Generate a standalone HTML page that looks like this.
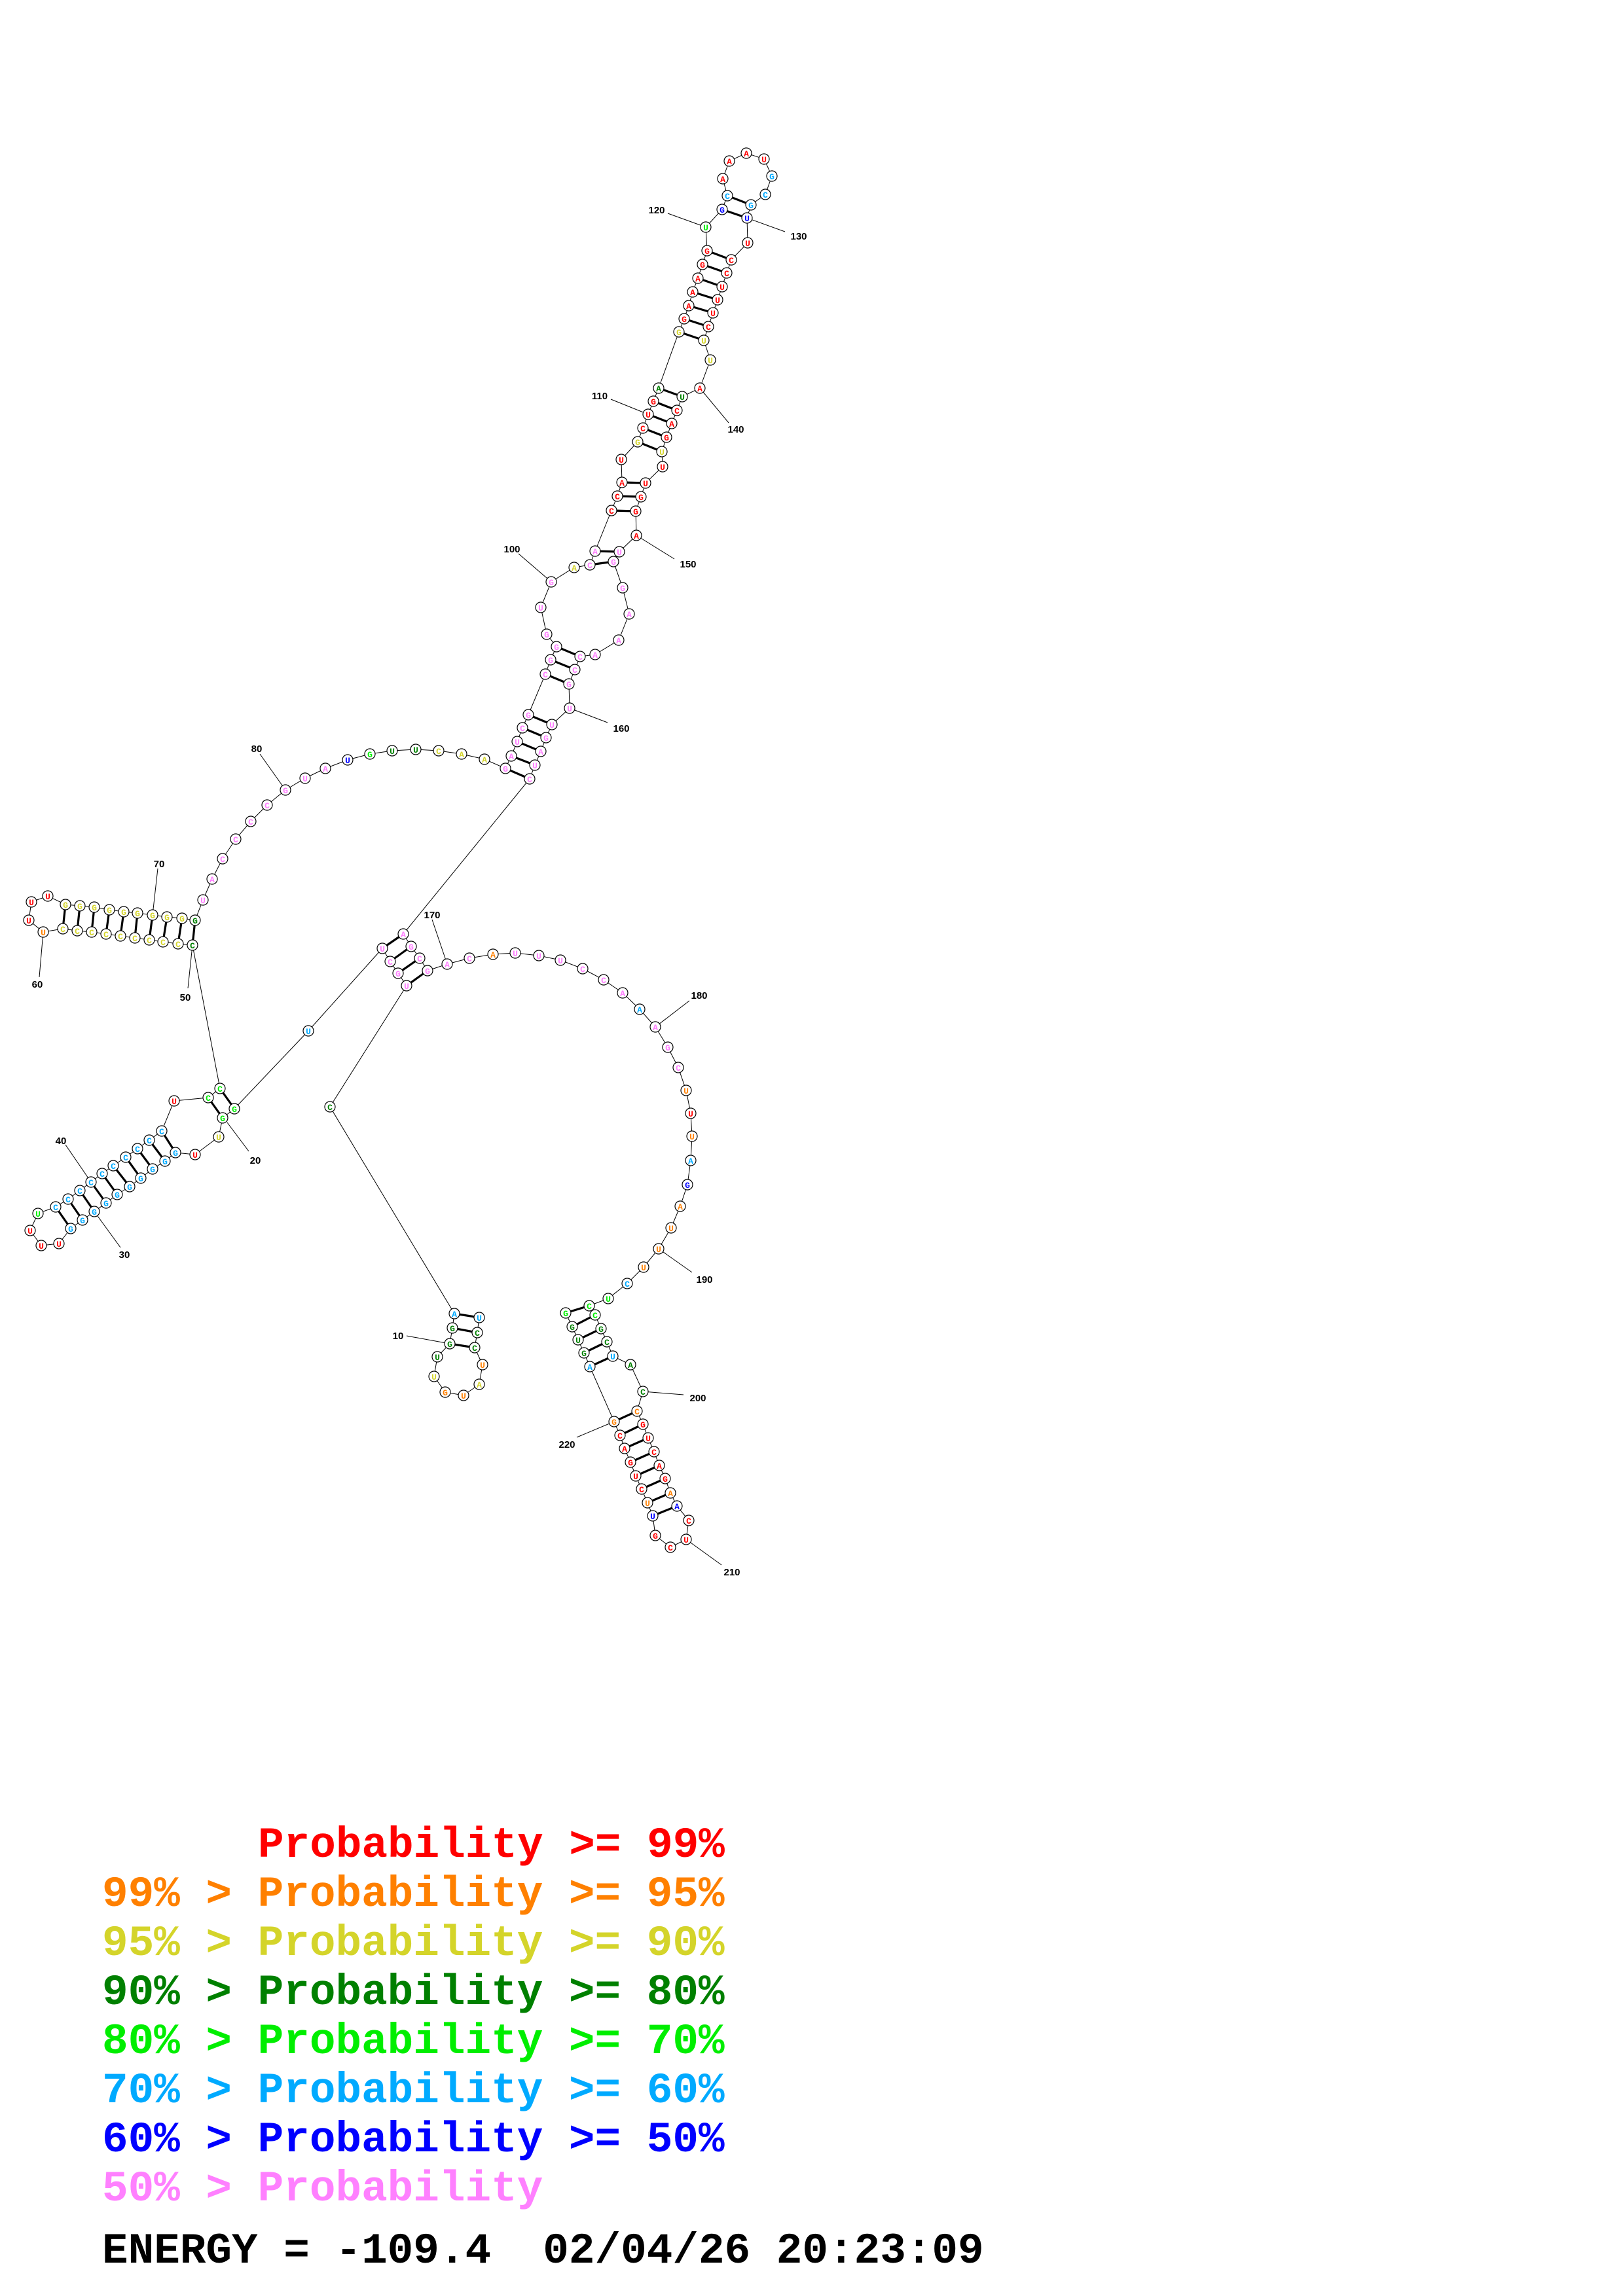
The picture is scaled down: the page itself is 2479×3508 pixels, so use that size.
<!DOCTYPE html>
<html><head><meta charset="utf-8">
<style>
html,body{margin:0;padding:0;background:#fff;}
svg{display:block;}
.n circle{fill:#fff;stroke:#000;stroke-width:1.2;}
.l{font-family:"Liberation Mono",monospace;font-weight:bold;font-size:13px;text-anchor:middle;}
.r{fill:#ff0000}.o{fill:#ff8000}.y{fill:#d4d42a}.d{fill:#008000}.g{fill:#00ee00}.c{fill:#00aaff}.b{fill:#0000ff}.p{fill:#ff80ff}
.num{font-family:"Liberation Sans",sans-serif;font-weight:bold;font-size:15px;text-anchor:middle;fill:#000}
.leg{font-family:"Liberation Mono",monospace;font-weight:bold;font-size:66px;white-space:pre;}
</style></head><body>
<svg width="2479" height="3508" viewBox="0 0 2479 3508" xmlns="http://www.w3.org/2000/svg">
<g stroke="#000" stroke-width="1" fill="none">
<polyline points="732,2013 729,2036 725,2059 737,2085 732,2115 708,2132 680,2127 663,2103 668,2073 687,2053 691,2029 694,2007 504,1691 621,1506 608,1487 596,1469 584,1449 471,1575 358,1694 340,1708 334,1737 298,1764 268,1761 252,1774 233,1786 215,1800 198,1813 179,1825 162,1838 144,1851 126,1864 108,1877 90,1900 63,1903 46,1880 58,1854 85,1844 104,1832 122,1819 139,1806 156,1793 173,1781 192,1768 210,1755 228,1742 247,1728 266,1682 318,1677 336,1663 294,1444 272,1442 249,1439 228,1436 206,1433 184,1430 162,1427 140,1424 118,1422 96,1419 66,1424 44,1406 48,1378 73,1369 100,1382 122,1384 144,1386 167,1390 189,1393 210,1395 233,1398 255,1401 278,1403 298,1406 310,1375 324,1343 340,1312 360,1282 383,1255 408,1230 436,1207 466,1189 497,1174 531,1161 565,1152 599,1147 635,1145 670,1147 705,1152 740,1160 772,1174 781,1155 790,1133 798,1112 807,1092 833,1030 841,1008 850,988 835,969 826,928 842,889 877,867 901,863 909,842 934,780 943,758 950,737 949,702 974,675 982,654 990,633 998,613 1006,593 1037,507 1045,487 1052,467 1058,446 1066,425 1073,404 1080,383 1078,347 1103,320 1111,299 1104,273 1114,246 1140,234 1167,243 1179,269 1169,297 1147,313 1141,333 1142,371 1117,397 1110,417 1103,438 1096,458 1089,478 1082,499 1075,520 1085,550 1069,593 1042,606 1034,627 1026,647 1018,668 1011,690 1012,713 986,738 979,759 971,781 972,818 946,843 937,858 951,898 961,938 945,978 909,1000 886,1003 878,1023 869,1045 870,1082 843,1107 834,1127 826,1148 817,1169 809,1190 616,1427 628,1446 641,1464 653,1483 683,1473 717,1464 753,1458 787,1456 823,1460 856,1467 890,1480 922,1497 951,1517 977,1542 1001,1569 1020,1600 1036,1631 1048,1666 1055,1701 1057,1736 1055,1773 1050,1810 1039,1843 1025,1876 1006,1908 983,1936 958,1961 929,1984 900,1995 909,2009 918,2030 927,2050 936,2072 963,2085 982,2126 973,2156 982,2176 990,2197 999,2218 1007,2239 1016,2259 1024,2281 1034,2301 1052,2323 1048,2352 1024,2364 1001,2346 997,2316 989,2296 980,2275 971,2255 963,2234 954,2213 947,2193 938,2172 901,2088 892,2067 883,2047 874,2027 864,2006"/>
<line x1="621" y1="2041" x2="687" y2="2053"/>
<line x1="380" y1="1759" x2="347" y2="1715"/>
<line x1="184" y1="1906" x2="144" y2="1851"/>
<line x1="100" y1="1749" x2="139" y2="1806"/>
<line x1="287" y1="1510" x2="294" y2="1444"/>
<line x1="60" y1="1493" x2="66" y2="1424"/>
<line x1="241" y1="1327" x2="233" y2="1398"/>
<line x1="397" y1="1152" x2="436" y2="1207"/>
<line x1="792" y1="846" x2="842" y2="889"/>
<line x1="933" y1="610" x2="990" y2="633"/>
<line x1="1020" y1="326" x2="1078" y2="347"/>
<line x1="1141" y1="333" x2="1199" y2="354"/>
<line x1="1069" y1="593" x2="1113" y2="646"/>
<line x1="972" y1="818" x2="1030" y2="854"/>
<line x1="870" y1="1082" x2="928" y2="1104"/>
<line x1="660" y1="1405" x2="683" y2="1473"/>
<line x1="1053" y1="1529" x2="1001" y2="1569"/>
<line x1="1006" y1="1908" x2="1057" y2="1944"/>
<line x1="982" y1="2126" x2="1044" y2="2131"/>
<line x1="1048" y1="2352" x2="1102" y2="2391"/>
<line x1="881" y1="2196" x2="938" y2="2172"/>
</g>
<g stroke="#000" stroke-width="3.2">
<line x1="732" y1="2013" x2="694" y2="2007"/><line x1="729" y1="2036" x2="691" y2="2029"/><line x1="725" y1="2059" x2="687" y2="2053"/>
<line x1="621" y1="1506" x2="653" y2="1483"/><line x1="608" y1="1487" x2="641" y2="1464"/><line x1="596" y1="1469" x2="628" y2="1446"/><line x1="584" y1="1449" x2="616" y2="1427"/>
<line x1="358" y1="1694" x2="336" y2="1663"/><line x1="340" y1="1708" x2="318" y2="1677"/>
<line x1="268" y1="1761" x2="247" y2="1728"/><line x1="252" y1="1774" x2="228" y2="1742"/><line x1="233" y1="1786" x2="210" y2="1755"/><line x1="215" y1="1800" x2="192" y2="1768"/><line x1="198" y1="1813" x2="173" y2="1781"/><line x1="179" y1="1825" x2="156" y2="1793"/><line x1="162" y1="1838" x2="139" y2="1806"/><line x1="144" y1="1851" x2="122" y2="1819"/><line x1="126" y1="1864" x2="104" y2="1832"/><line x1="108" y1="1877" x2="85" y2="1844"/>
<line x1="294" y1="1444" x2="298" y2="1406"/><line x1="272" y1="1442" x2="278" y2="1403"/><line x1="249" y1="1439" x2="255" y2="1401"/><line x1="228" y1="1436" x2="233" y2="1398"/><line x1="206" y1="1433" x2="210" y2="1395"/><line x1="184" y1="1430" x2="189" y2="1393"/><line x1="162" y1="1427" x2="167" y2="1390"/><line x1="140" y1="1424" x2="144" y2="1386"/><line x1="118" y1="1422" x2="122" y2="1384"/><line x1="96" y1="1419" x2="100" y2="1382"/>
<line x1="772" y1="1174" x2="809" y2="1190"/><line x1="781" y1="1155" x2="817" y2="1169"/><line x1="790" y1="1133" x2="826" y2="1148"/><line x1="798" y1="1112" x2="834" y2="1127"/><line x1="807" y1="1092" x2="843" y2="1107"/>
<line x1="833" y1="1030" x2="869" y2="1045"/><line x1="841" y1="1008" x2="878" y2="1023"/><line x1="850" y1="988" x2="886" y2="1003"/>
<line x1="901" y1="863" x2="937" y2="858"/><line x1="909" y1="842" x2="946" y2="843"/>
<line x1="934" y1="780" x2="971" y2="781"/><line x1="943" y1="758" x2="979" y2="759"/><line x1="950" y1="737" x2="986" y2="738"/>
<line x1="974" y1="675" x2="1011" y2="690"/><line x1="982" y1="654" x2="1018" y2="668"/><line x1="990" y1="633" x2="1026" y2="647"/><line x1="998" y1="613" x2="1034" y2="627"/><line x1="1006" y1="593" x2="1042" y2="606"/>
<line x1="1037" y1="507" x2="1075" y2="520"/><line x1="1045" y1="487" x2="1082" y2="499"/><line x1="1052" y1="467" x2="1089" y2="478"/><line x1="1058" y1="446" x2="1096" y2="458"/><line x1="1066" y1="425" x2="1103" y2="438"/><line x1="1073" y1="404" x2="1110" y2="417"/><line x1="1080" y1="383" x2="1117" y2="397"/>
<line x1="1103" y1="320" x2="1141" y2="333"/><line x1="1111" y1="299" x2="1147" y2="313"/>
<line x1="900" y1="1995" x2="864" y2="2006"/><line x1="909" y1="2009" x2="874" y2="2027"/><line x1="918" y1="2030" x2="883" y2="2047"/><line x1="927" y1="2050" x2="892" y2="2067"/><line x1="936" y1="2072" x2="901" y2="2088"/>
<line x1="973" y1="2156" x2="938" y2="2172"/><line x1="982" y1="2176" x2="947" y2="2193"/><line x1="990" y1="2197" x2="954" y2="2213"/><line x1="999" y1="2218" x2="963" y2="2234"/><line x1="1007" y1="2239" x2="971" y2="2255"/><line x1="1016" y1="2259" x2="980" y2="2275"/><line x1="1024" y1="2281" x2="989" y2="2296"/><line x1="1034" y1="2301" x2="997" y2="2316"/>
</g>
<g class="n">
<circle cx="732" cy="2013" r="8"/><circle cx="729" cy="2036" r="8"/><circle cx="725" cy="2059" r="8"/><circle cx="737" cy="2085" r="8"/><circle cx="732" cy="2115" r="8"/><circle cx="708" cy="2132" r="8"/><circle cx="680" cy="2127" r="8"/><circle cx="663" cy="2103" r="8"/><circle cx="668" cy="2073" r="8"/><circle cx="687" cy="2053" r="8"/><circle cx="691" cy="2029" r="8"/><circle cx="694" cy="2007" r="8"/><circle cx="504" cy="1691" r="8"/><circle cx="621" cy="1506" r="8"/><circle cx="608" cy="1487" r="8"/><circle cx="596" cy="1469" r="8"/><circle cx="584" cy="1449" r="8"/><circle cx="471" cy="1575" r="8"/><circle cx="358" cy="1694" r="8"/><circle cx="340" cy="1708" r="8"/><circle cx="334" cy="1737" r="8"/><circle cx="298" cy="1764" r="8"/><circle cx="268" cy="1761" r="8"/><circle cx="252" cy="1774" r="8"/><circle cx="233" cy="1786" r="8"/><circle cx="215" cy="1800" r="8"/><circle cx="198" cy="1813" r="8"/><circle cx="179" cy="1825" r="8"/><circle cx="162" cy="1838" r="8"/><circle cx="144" cy="1851" r="8"/><circle cx="126" cy="1864" r="8"/><circle cx="108" cy="1877" r="8"/><circle cx="90" cy="1900" r="8"/><circle cx="63" cy="1903" r="8"/><circle cx="46" cy="1880" r="8"/><circle cx="58" cy="1854" r="8"/><circle cx="85" cy="1844" r="8"/><circle cx="104" cy="1832" r="8"/><circle cx="122" cy="1819" r="8"/><circle cx="139" cy="1806" r="8"/><circle cx="156" cy="1793" r="8"/><circle cx="173" cy="1781" r="8"/><circle cx="192" cy="1768" r="8"/><circle cx="210" cy="1755" r="8"/><circle cx="228" cy="1742" r="8"/><circle cx="247" cy="1728" r="8"/><circle cx="266" cy="1682" r="8"/><circle cx="318" cy="1677" r="8"/><circle cx="336" cy="1663" r="8"/><circle cx="294" cy="1444" r="8"/><circle cx="272" cy="1442" r="8"/><circle cx="249" cy="1439" r="8"/><circle cx="228" cy="1436" r="8"/><circle cx="206" cy="1433" r="8"/><circle cx="184" cy="1430" r="8"/><circle cx="162" cy="1427" r="8"/><circle cx="140" cy="1424" r="8"/><circle cx="118" cy="1422" r="8"/><circle cx="96" cy="1419" r="8"/><circle cx="66" cy="1424" r="8"/><circle cx="44" cy="1406" r="8"/><circle cx="48" cy="1378" r="8"/><circle cx="73" cy="1369" r="8"/><circle cx="100" cy="1382" r="8"/><circle cx="122" cy="1384" r="8"/><circle cx="144" cy="1386" r="8"/><circle cx="167" cy="1390" r="8"/><circle cx="189" cy="1393" r="8"/><circle cx="210" cy="1395" r="8"/><circle cx="233" cy="1398" r="8"/><circle cx="255" cy="1401" r="8"/><circle cx="278" cy="1403" r="8"/><circle cx="298" cy="1406" r="8"/><circle cx="310" cy="1375" r="8"/><circle cx="324" cy="1343" r="8"/><circle cx="340" cy="1312" r="8"/><circle cx="360" cy="1282" r="8"/><circle cx="383" cy="1255" r="8"/><circle cx="408" cy="1230" r="8"/><circle cx="436" cy="1207" r="8"/><circle cx="466" cy="1189" r="8"/><circle cx="497" cy="1174" r="8"/><circle cx="531" cy="1161" r="8"/><circle cx="565" cy="1152" r="8"/><circle cx="599" cy="1147" r="8"/><circle cx="635" cy="1145" r="8"/><circle cx="670" cy="1147" r="8"/><circle cx="705" cy="1152" r="8"/><circle cx="740" cy="1160" r="8"/><circle cx="772" cy="1174" r="8"/><circle cx="781" cy="1155" r="8"/><circle cx="790" cy="1133" r="8"/><circle cx="798" cy="1112" r="8"/><circle cx="807" cy="1092" r="8"/><circle cx="833" cy="1030" r="8"/><circle cx="841" cy="1008" r="8"/><circle cx="850" cy="988" r="8"/><circle cx="835" cy="969" r="8"/><circle cx="826" cy="928" r="8"/><circle cx="842" cy="889" r="8"/><circle cx="877" cy="867" r="8"/><circle cx="901" cy="863" r="8"/><circle cx="909" cy="842" r="8"/><circle cx="934" cy="780" r="8"/><circle cx="943" cy="758" r="8"/><circle cx="950" cy="737" r="8"/><circle cx="949" cy="702" r="8"/><circle cx="974" cy="675" r="8"/><circle cx="982" cy="654" r="8"/><circle cx="990" cy="633" r="8"/><circle cx="998" cy="613" r="8"/><circle cx="1006" cy="593" r="8"/><circle cx="1037" cy="507" r="8"/><circle cx="1045" cy="487" r="8"/><circle cx="1052" cy="467" r="8"/><circle cx="1058" cy="446" r="8"/><circle cx="1066" cy="425" r="8"/><circle cx="1073" cy="404" r="8"/><circle cx="1080" cy="383" r="8"/><circle cx="1078" cy="347" r="8"/><circle cx="1103" cy="320" r="8"/><circle cx="1111" cy="299" r="8"/><circle cx="1104" cy="273" r="8"/><circle cx="1114" cy="246" r="8"/><circle cx="1140" cy="234" r="8"/><circle cx="1167" cy="243" r="8"/><circle cx="1179" cy="269" r="8"/><circle cx="1169" cy="297" r="8"/><circle cx="1147" cy="313" r="8"/><circle cx="1141" cy="333" r="8"/><circle cx="1142" cy="371" r="8"/><circle cx="1117" cy="397" r="8"/><circle cx="1110" cy="417" r="8"/><circle cx="1103" cy="438" r="8"/><circle cx="1096" cy="458" r="8"/><circle cx="1089" cy="478" r="8"/><circle cx="1082" cy="499" r="8"/><circle cx="1075" cy="520" r="8"/><circle cx="1085" cy="550" r="8"/><circle cx="1069" cy="593" r="8"/><circle cx="1042" cy="606" r="8"/><circle cx="1034" cy="627" r="8"/><circle cx="1026" cy="647" r="8"/><circle cx="1018" cy="668" r="8"/><circle cx="1011" cy="690" r="8"/><circle cx="1012" cy="713" r="8"/><circle cx="986" cy="738" r="8"/><circle cx="979" cy="759" r="8"/><circle cx="971" cy="781" r="8"/><circle cx="972" cy="818" r="8"/><circle cx="946" cy="843" r="8"/><circle cx="937" cy="858" r="8"/><circle cx="951" cy="898" r="8"/><circle cx="961" cy="938" r="8"/><circle cx="945" cy="978" r="8"/><circle cx="909" cy="1000" r="8"/><circle cx="886" cy="1003" r="8"/><circle cx="878" cy="1023" r="8"/><circle cx="869" cy="1045" r="8"/><circle cx="870" cy="1082" r="8"/><circle cx="843" cy="1107" r="8"/><circle cx="834" cy="1127" r="8"/><circle cx="826" cy="1148" r="8"/><circle cx="817" cy="1169" r="8"/><circle cx="809" cy="1190" r="8"/><circle cx="616" cy="1427" r="8"/><circle cx="628" cy="1446" r="8"/><circle cx="641" cy="1464" r="8"/><circle cx="653" cy="1483" r="8"/><circle cx="683" cy="1473" r="8"/><circle cx="717" cy="1464" r="8"/><circle cx="753" cy="1458" r="8"/><circle cx="787" cy="1456" r="8"/><circle cx="823" cy="1460" r="8"/><circle cx="856" cy="1467" r="8"/><circle cx="890" cy="1480" r="8"/><circle cx="922" cy="1497" r="8"/><circle cx="951" cy="1517" r="8"/><circle cx="977" cy="1542" r="8"/><circle cx="1001" cy="1569" r="8"/><circle cx="1020" cy="1600" r="8"/><circle cx="1036" cy="1631" r="8"/><circle cx="1048" cy="1666" r="8"/><circle cx="1055" cy="1701" r="8"/><circle cx="1057" cy="1736" r="8"/><circle cx="1055" cy="1773" r="8"/><circle cx="1050" cy="1810" r="8"/><circle cx="1039" cy="1843" r="8"/><circle cx="1025" cy="1876" r="8"/><circle cx="1006" cy="1908" r="8"/><circle cx="983" cy="1936" r="8"/><circle cx="958" cy="1961" r="8"/><circle cx="929" cy="1984" r="8"/><circle cx="900" cy="1995" r="8"/><circle cx="909" cy="2009" r="8"/><circle cx="918" cy="2030" r="8"/><circle cx="927" cy="2050" r="8"/><circle cx="936" cy="2072" r="8"/><circle cx="963" cy="2085" r="8"/><circle cx="982" cy="2126" r="8"/><circle cx="973" cy="2156" r="8"/><circle cx="982" cy="2176" r="8"/><circle cx="990" cy="2197" r="8"/><circle cx="999" cy="2218" r="8"/><circle cx="1007" cy="2239" r="8"/><circle cx="1016" cy="2259" r="8"/><circle cx="1024" cy="2281" r="8"/><circle cx="1034" cy="2301" r="8"/><circle cx="1052" cy="2323" r="8"/><circle cx="1048" cy="2352" r="8"/><circle cx="1024" cy="2364" r="8"/><circle cx="1001" cy="2346" r="8"/><circle cx="997" cy="2316" r="8"/><circle cx="989" cy="2296" r="8"/><circle cx="980" cy="2275" r="8"/><circle cx="971" cy="2255" r="8"/><circle cx="963" cy="2234" r="8"/><circle cx="954" cy="2213" r="8"/><circle cx="947" cy="2193" r="8"/><circle cx="938" cy="2172" r="8"/><circle cx="901" cy="2088" r="8"/><circle cx="892" cy="2067" r="8"/><circle cx="883" cy="2047" r="8"/><circle cx="874" cy="2027" r="8"/><circle cx="864" cy="2006" r="8"/>
</g>
<g class="l">
<text x="732" y="2018" class="c">U</text><text x="729" y="2041" class="d">C</text><text x="725" y="2064" class="d">C</text><text x="737" y="2090" class="o">U</text><text x="732" y="2120" class="y">A</text><text x="708" y="2137" class="o">U</text><text x="680" y="2132" class="o">G</text><text x="663" y="2108" class="y">U</text><text x="668" y="2078" class="d">U</text><text x="687" y="2058" class="d">G</text><text x="691" y="2034" class="d">G</text><text x="694" y="2012" class="c">A</text>
<text x="504" y="1696" class="d">C</text><text x="621" y="1511" class="p">U</text><text x="608" y="1492" class="p">G</text><text x="596" y="1474" class="p">C</text><text x="584" y="1454" class="p">U</text><text x="471" y="1580" class="c">U</text><text x="358" y="1699" class="g">G</text><text x="340" y="1713" class="g">G</text><text x="334" y="1742" class="y">U</text><text x="298" y="1769" class="r">U</text>
<text x="268" y="1766" class="c">G</text><text x="252" y="1779" class="c">G</text><text x="233" y="1791" class="c">G</text><text x="215" y="1805" class="c">G</text><text x="198" y="1818" class="c">G</text><text x="179" y="1830" class="c">G</text><text x="162" y="1843" class="c">G</text><text x="144" y="1856" class="c">G</text><text x="126" y="1869" class="c">G</text><text x="108" y="1882" class="c">G</text>
<text x="90" y="1905" class="r">U</text><text x="63" y="1908" class="r">U</text><text x="46" y="1885" class="r">U</text><text x="58" y="1859" class="g">U</text>
<text x="85" y="1849" class="c">C</text><text x="104" y="1837" class="c">C</text><text x="122" y="1824" class="c">C</text><text x="139" y="1811" class="c">C</text><text x="156" y="1798" class="c">C</text><text x="173" y="1786" class="c">C</text><text x="192" y="1773" class="c">C</text><text x="210" y="1760" class="c">C</text><text x="228" y="1747" class="c">C</text><text x="247" y="1733" class="c">C</text>
<text x="266" y="1687" class="r">U</text><text x="318" y="1682" class="g">C</text><text x="336" y="1668" class="g">C</text>
<text x="294" y="1449" class="d">C</text><text x="272" y="1447" class="y">C</text><text x="249" y="1444" class="y">C</text><text x="228" y="1441" class="y">C</text><text x="206" y="1438" class="y">C</text><text x="184" y="1435" class="y">C</text><text x="162" y="1432" class="y">C</text><text x="140" y="1429" class="y">C</text><text x="118" y="1427" class="y">C</text><text x="96" y="1424" class="y">C</text>
<text x="66" y="1429" class="o">U</text><text x="44" y="1411" class="r">U</text><text x="48" y="1383" class="r">U</text><text x="73" y="1374" class="r">U</text>
<text x="100" y="1387" class="y">G</text><text x="122" y="1389" class="y">G</text><text x="144" y="1391" class="y">G</text><text x="167" y="1395" class="y">G</text><text x="189" y="1398" class="y">G</text><text x="210" y="1400" class="y">G</text><text x="233" y="1403" class="y">G</text><text x="255" y="1406" class="y">G</text><text x="278" y="1408" class="y">G</text><text x="298" y="1411" class="d">G</text>
<text x="310" y="1380" class="p">U</text><text x="324" y="1348" class="p">A</text><text x="340" y="1317" class="p">C</text><text x="360" y="1287" class="p">C</text><text x="383" y="1260" class="p">C</text><text x="408" y="1235" class="p">C</text><text x="436" y="1212" class="p">G</text><text x="466" y="1194" class="p">U</text><text x="497" y="1179" class="p">A</text><text x="531" y="1166" class="b">U</text><text x="565" y="1157" class="g">G</text><text x="599" y="1152" class="d">U</text><text x="635" y="1150" class="d">U</text><text x="670" y="1152" class="y">C</text><text x="705" y="1157" class="y">A</text><text x="740" y="1165" class="y">A</text>
<text x="772" y="1179" class="p">G</text><text x="781" y="1160" class="p">A</text><text x="790" y="1138" class="p">U</text><text x="798" y="1117" class="p">C</text><text x="807" y="1097" class="p">G</text><text x="833" y="1035" class="p">C</text><text x="841" y="1013" class="p">G</text><text x="850" y="993" class="p">G</text><text x="835" y="974" class="p">G</text><text x="826" y="933" class="p">U</text><text x="842" y="894" class="p">G</text><text x="877" y="872" class="y">A</text><text x="901" y="868" class="p">C</text><text x="909" y="847" class="p">A</text>
<text x="934" y="785" class="r">C</text><text x="943" y="763" class="r">C</text><text x="950" y="742" class="r">A</text><text x="949" y="707" class="r">U</text><text x="974" y="680" class="y">G</text><text x="982" y="659" class="r">C</text><text x="990" y="638" class="r">U</text><text x="998" y="618" class="r">G</text><text x="1006" y="598" class="d">A</text>
<text x="1037" y="512" class="y">G</text><text x="1045" y="492" class="r">G</text><text x="1052" y="472" class="r">A</text><text x="1058" y="451" class="r">A</text><text x="1066" y="430" class="r">A</text><text x="1073" y="409" class="r">G</text><text x="1080" y="388" class="r">G</text><text x="1078" y="352" class="g">U</text><text x="1103" y="325" class="b">G</text><text x="1111" y="304" class="c">C</text>
<text x="1104" y="278" class="r">A</text><text x="1114" y="251" class="r">A</text><text x="1140" y="239" class="r">A</text><text x="1167" y="248" class="r">U</text><text x="1179" y="274" class="c">G</text><text x="1169" y="302" class="c">C</text><text x="1147" y="318" class="c">G</text><text x="1141" y="338" class="b">U</text>
<text x="1142" y="376" class="r">U</text><text x="1117" y="402" class="r">C</text><text x="1110" y="422" class="r">C</text><text x="1103" y="443" class="r">U</text><text x="1096" y="463" class="r">U</text><text x="1089" y="483" class="r">U</text><text x="1082" y="504" class="r">C</text><text x="1075" y="525" class="y">U</text><text x="1085" y="555" class="y">U</text><text x="1069" y="598" class="r">A</text>
<text x="1042" y="611" class="d">U</text><text x="1034" y="632" class="r">C</text><text x="1026" y="652" class="r">A</text><text x="1018" y="673" class="r">G</text><text x="1011" y="695" class="y">U</text><text x="1012" y="718" class="r">U</text><text x="986" y="743" class="r">U</text><text x="979" y="764" class="r">G</text><text x="971" y="786" class="r">G</text><text x="972" y="823" class="r">A</text>
<text x="946" y="848" class="p">U</text><text x="937" y="863" class="p">G</text><text x="951" y="903" class="p">G</text><text x="961" y="943" class="p">A</text><text x="945" y="983" class="p">A</text><text x="909" y="1005" class="p">A</text><text x="886" y="1008" class="p">C</text><text x="878" y="1028" class="p">C</text><text x="869" y="1050" class="p">G</text><text x="870" y="1087" class="p">U</text><text x="843" y="1112" class="p">U</text><text x="834" y="1132" class="p">G</text><text x="826" y="1153" class="p">A</text><text x="817" y="1174" class="p">U</text><text x="809" y="1195" class="p">C</text>
<text x="616" y="1432" class="p">A</text><text x="628" y="1451" class="p">G</text><text x="641" y="1469" class="p">C</text><text x="653" y="1488" class="p">G</text><text x="683" y="1478" class="p">A</text><text x="717" y="1469" class="p">C</text><text x="753" y="1463" class="o">A</text><text x="787" y="1461" class="p">U</text><text x="823" y="1465" class="p">U</text><text x="856" y="1472" class="p">U</text><text x="890" y="1485" class="p">C</text><text x="922" y="1502" class="p">C</text><text x="951" y="1522" class="p">A</text><text x="977" y="1547" class="c">A</text><text x="1001" y="1574" class="p">A</text><text x="1020" y="1605" class="p">G</text><text x="1036" y="1636" class="p">C</text>
<text x="1048" y="1671" class="o">U</text><text x="1055" y="1706" class="r">U</text><text x="1057" y="1741" class="o">U</text><text x="1055" y="1778" class="c">A</text><text x="1050" y="1815" class="b">G</text><text x="1039" y="1848" class="o">A</text><text x="1025" y="1881" class="o">U</text><text x="1006" y="1913" class="o">U</text><text x="983" y="1941" class="o">U</text><text x="958" y="1966" class="c">C</text><text x="929" y="1989" class="g">U</text><text x="900" y="2000" class="g">C</text>
<text x="909" y="2014" class="g">C</text><text x="918" y="2035" class="d">G</text><text x="927" y="2055" class="d">C</text><text x="936" y="2077" class="c">U</text><text x="963" y="2090" class="d">A</text><text x="982" y="2131" class="d">C</text><text x="973" y="2161" class="o">C</text>
<text x="982" y="2181" class="r">G</text><text x="990" y="2202" class="r">U</text><text x="999" y="2223" class="r">C</text><text x="1007" y="2244" class="r">A</text><text x="1016" y="2264" class="r">G</text><text x="1024" y="2286" class="o">A</text><text x="1034" y="2306" class="b">A</text><text x="1052" y="2328" class="r">C</text><text x="1048" y="2357" class="r">U</text><text x="1024" y="2369" class="r">C</text><text x="1001" y="2351" class="r">G</text><text x="997" y="2321" class="b">U</text><text x="989" y="2301" class="o">U</text><text x="980" y="2280" class="r">C</text><text x="971" y="2260" class="r">U</text><text x="963" y="2239" class="r">G</text><text x="954" y="2218" class="r">A</text><text x="947" y="2198" class="r">C</text><text x="938" y="2177" class="o">G</text>
<text x="901" y="2093" class="c">A</text><text x="892" y="2072" class="d">G</text><text x="883" y="2052" class="d">U</text><text x="874" y="2032" class="d">G</text><text x="864" y="2011" class="g">G</text>
</g>
<g class="num">
<text x="608" y="2046">10</text><text x="390" y="1778">20</text><text x="190" y="1922">30</text><text x="93" y="1748">40</text><text x="283" y="1529">50</text><text x="57" y="1509">60</text><text x="243" y="1325">70</text><text x="392" y="1149">80</text><text x="782" y="844">100</text><text x="916" y="610">110</text><text x="1003" y="326">120</text><text x="1220" y="366">130</text><text x="1124" y="661">140</text><text x="1051" y="867">150</text><text x="949" y="1118">160</text><text x="660" y="1403">170</text><text x="1068" y="1526">180</text><text x="1076" y="1960">190</text><text x="1066" y="2141">200</text><text x="1118" y="2407">210</text><text x="866" y="2212">220</text>
</g>
<g class="leg">
<text x="394" y="2837" fill="#ff0000">Probability &gt;= 99%</text>
<text x="156" y="2912" fill="#ff8000">99% &gt; Probability &gt;= 95%</text>
<text x="156" y="2987" fill="#d4d42a">95% &gt; Probability &gt;= 90%</text>
<text x="156" y="3062" fill="#008000">90% &gt; Probability &gt;= 80%</text>
<text x="156" y="3137" fill="#00ee00">80% &gt; Probability &gt;= 70%</text>
<text x="156" y="3212" fill="#00aaff">70% &gt; Probability &gt;= 60%</text>
<text x="156" y="3287" fill="#0000ff">60% &gt; Probability &gt;= 50%</text>
<text x="156" y="3362" fill="#ff80ff">50% &gt; Probability</text>
<text x="156" y="3457" fill="#000" xml:space="preserve">ENERGY = -109.4  02/04/26 20:23:09</text>
</g>
</svg>
</body></html>
